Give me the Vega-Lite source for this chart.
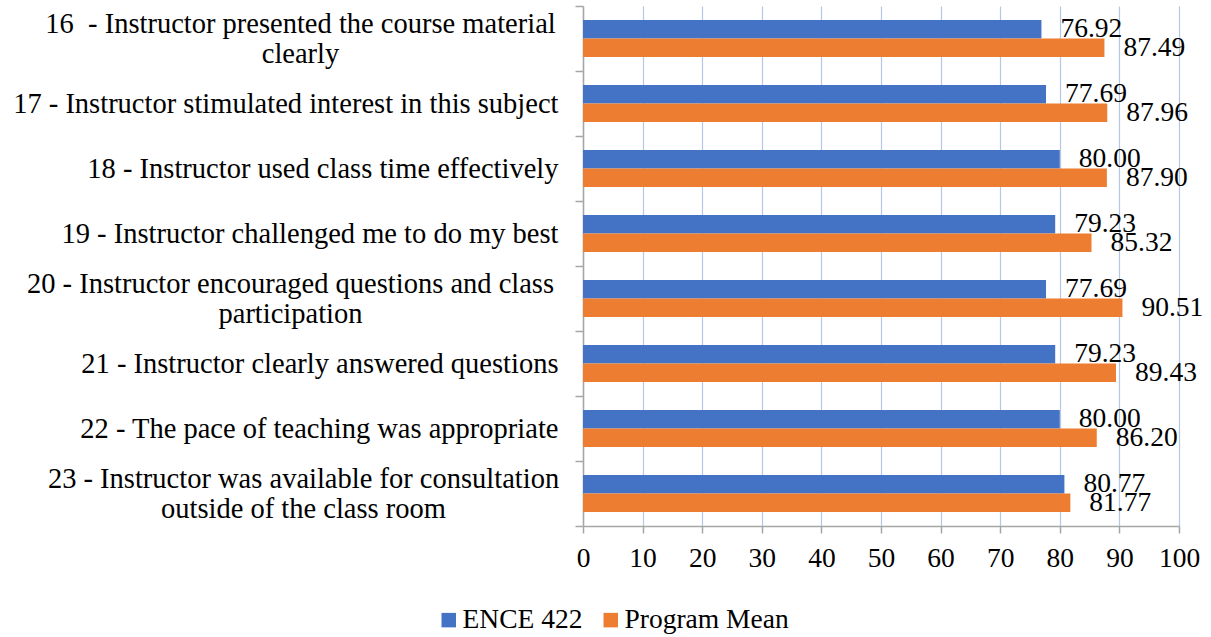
{
  "$schema": "https://vega.github.io/schema/vega-lite/v6.json",
  "width": 596,
  "height": 520,
  "autosize": {"type": "none"},
  "padding": {"left": 583, "top": 6, "right": 32, "bottom": 111},
  "background": "white",
  "config": {
    "font": "Liberation Serif",
    "view": {"stroke": null}
  },
  "data": {
    "values": [
      {"item": "16\u00a0 - Instructor presented the course material|clearly", "series": "ENCE 422", "value": 76.92},
      {"item": "16\u00a0 - Instructor presented the course material|clearly", "series": "Program Mean", "value": 87.49},
      {"item": "17 - Instructor stimulated interest in this subject", "series": "ENCE 422", "value": 77.69},
      {"item": "17 - Instructor stimulated interest in this subject", "series": "Program Mean", "value": 87.96},
      {"item": "18 - Instructor used class time effectively", "series": "ENCE 422", "value": 80.00},
      {"item": "18 - Instructor used class time effectively", "series": "Program Mean", "value": 87.90},
      {"item": "19 - Instructor challenged me to do my best", "series": "ENCE 422", "value": 79.23},
      {"item": "19 - Instructor challenged me to do my best", "series": "Program Mean", "value": 85.32},
      {"item": "20 - Instructor encouraged questions and class|participation", "series": "ENCE 422", "value": 77.69},
      {"item": "20 - Instructor encouraged questions and class|participation", "series": "Program Mean", "value": 90.51},
      {"item": "21 - Instructor clearly answered questions", "series": "ENCE 422", "value": 79.23},
      {"item": "21 - Instructor clearly answered questions", "series": "Program Mean", "value": 89.43},
      {"item": "22 - The pace of teaching was appropriate", "series": "ENCE 422", "value": 80.00},
      {"item": "22 - The pace of teaching was appropriate", "series": "Program Mean", "value": 86.20},
      {"item": "23 - Instructor was available for consultation|outside of the class room", "series": "ENCE 422", "value": 80.77},
      {"item": "23 - Instructor was available for consultation|outside of the class room", "series": "Program Mean", "value": 81.77}
    ]
  },
  "encoding": {
    "y": {
      "field": "item",
      "type": "nominal",
      "sort": null,
      "title": null,
      "scale": {"paddingInner": 0, "paddingOuter": 0},
      "axis": {
        "labelExpr": "split(datum.label, '|')",
        "labelFontSize": 28.5,
        "labelColor": "black",
        "labelLimit": 600,
        "labelLineHeight": 30,
        "labelAlign": {"condition": {"test": "indexof('' + datum.value, '|') >= 0", "value": "center"}, "value": "right"},
        "labelOffset": {"condition": {"test": "indexof('' + datum.value, '|') >= 0", "value": -15}, "value": 0},
        "labelPadding": {
          "condition": [
            {"test": "indexof('' + datum.value, '16') == 0", "value": 275},
            {"test": "indexof('' + datum.value, '20') == 0", "value": 285},
            {"test": "indexof('' + datum.value, '23') == 0", "value": 272}
          ],
          "value": 17
        },
        "tickBand": "extent",
        "tickSize": 8,
        "tickColor": "#a6a6a6",
        "tickWidth": 1.5,
        "domainColor": "#a6a6a6",
        "domainWidth": 1.5,
        "grid": false
      }
    },
    "yOffset": {
      "field": "series",
      "type": "nominal",
      "sort": ["ENCE 422", "Program Mean"],
      "scale": {"paddingInner": 0, "paddingOuter": 0.76}
    },
    "x": {
      "field": "value",
      "type": "quantitative",
      "title": null,
      "scale": {"domain": [0, 100], "nice": false},
      "axis": {
        "values": [0, 10, 20, 30, 40, 50, 60, 70, 80, 90, 100],
        "labelFontSize": 27.5,
        "labelColor": "black",
        "labelPadding": 11,
        "labelFlush": false,
        "tickSize": 7,
        "tickColor": "#a6a6a6",
        "tickWidth": 1.5,
        "domainColor": "#a6a6a6",
        "domainWidth": 1.5,
        "grid": true,
        "gridColor": "#b4c7e7",
        "gridWidth": 1.2
      }
    }
  },
  "layer": [
    {
      "mark": {"type": "bar"},
      "encoding": {
        "color": {
          "field": "series",
          "type": "nominal",
          "sort": ["ENCE 422", "Program Mean"],
          "scale": {"domain": ["ENCE 422", "Program Mean"], "range": ["#4472C4", "#ED7D31"]},
          "legend": {
            "title": null,
            "orient": "none",
            "legendX": -148,
            "legendY": 600,
            "direction": "horizontal",
            "symbolType": "square",
            "symbolSize": 210,
            "symbolStrokeWidth": 0,
            "labelFontSize": 27.5,
            "labelColor": "black",
            "labelOffset": 0,
            "columnPadding": 14,
            "labelLimit": 300
          }
        }
      }
    },
    {
      "mark": {"type": "text", "align": "left", "baseline": "middle", "dx": 19, "fontSize": 27.5, "color": "black"},
      "encoding": {
        "text": {"field": "value", "type": "quantitative", "format": ".2f"}
      }
    }
  ]
}
